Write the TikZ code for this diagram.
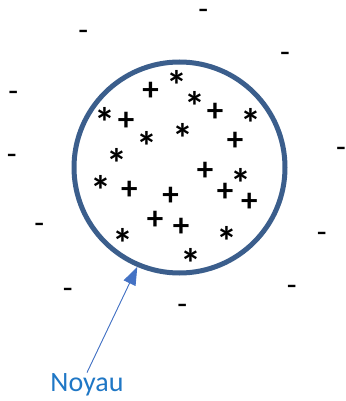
\documentclass[tikz,border=0pt]{standalone}
\usepackage{fontspec}
\setmainfont{Carlito}
\usepackage{tikz}
\usetikzlibrary{arrows.meta, positioning}
\definecolor{bordnoyau}{HTML}{3B5E8C}
\definecolor{fleche}{HTML}{4472C4}
\definecolor{texte}{HTML}{1F77C5}

\begin{document}
\begin{tikzpicture}[x=1pt, y=-1pt,
  noyau/.style={circle, draw=bordnoyau, line width=5pt, minimum size=211pt, inner sep=0pt},
  plus/.style={inner sep=0pt, yshift=-1pt, font=\fontsize{33}{33}\selectfont\bfseries},
  etoile/.style={inner sep=0pt, yshift=-8pt, font=\fontsize{42}{42}\selectfont\bfseries},
  moins/.style={inner sep=0pt, yshift=-3pt, font=\fontsize{32}{32}\selectfont},
  fleche/.style={-{Triangle[length=18pt, width=13pt]}, draw=fleche, fill=fleche, line width=0.9pt},
  label/.style={text=texte, inner sep=1pt, font=\fontsize{28}{28}\selectfont}
]
\useasboundingbox (0,0) rectangle (345,401);

% Noyau
\node[noyau] (noyau) at (179.5,167.5) {};

% Charges positives
\foreach \x/\y [count=\i] in {150.7/90, 126/120, 215/111.7, 235/140, 205/170, 129.3/189,
  170.7/195, 225/191, 249.3/201, 155/219, 181/226.7}
  \node[plus] (p\i) at (\x,\y) {+};

% Etoiles
\foreach \x/\y [count=\i] in {176.7/77.7, 195/98.3, 105/114.3, 250.7/115.7, 182.7/130, 146.7/138.3,
  117.3/155, 241/175, 101/182.3, 122.7/235, 226.7/233.3, 191/255}
  \node[etoile] (e\i) at (\x,\y) {*};

% Charges negatives
\foreach \x/\y [count=\i] in {203.3/11.7, 83.3/32.3, 285/54, 13.3/93.3, 11.7/156, 341/149.3,
  39.3/225.5, 321.7/234.3, 67.7/290, 291.7/287.3, 182.3/306}
  \node[moins] (m\i) at (\x,\y) {-};

% Legende
\node[label] (nom) at (87,385) {Noyau};
\draw[fleche] (nom.north) -- (noyau.247);
\end{tikzpicture}
\end{document}
